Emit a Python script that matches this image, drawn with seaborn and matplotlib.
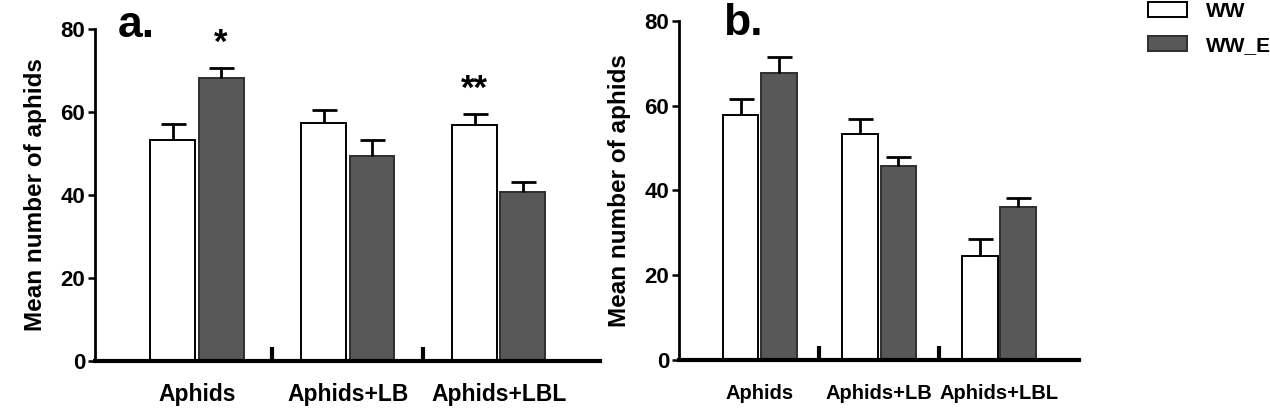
import numpy as np
import pandas as pd
import matplotlib
matplotlib.use("Agg")
import matplotlib.pyplot as plt
import seaborn as sns
from matplotlib.patches import Patch

# data (mean and SEM per group / treatment)
groups = ["Aphids", "Aphids+LB", "Aphids+LBL"]
treatments = ["WW", "WW_E+"]

a_ww = [53.2, 57.3, 56.9]
a_ww_err = [3.9, 3.2, 2.6]
a_we = [68.2, 49.4, 40.7]
a_we_err = [2.4, 3.8, 2.4]
a_stars = [["", "*"], ["", ""], ["**", ""]]

b_ww = [57.9, 53.3, 24.5]
b_ww_err = [3.6, 3.6, 4.0]
b_we = [67.8, 45.8, 36.0]
b_we_err = [3.7, 2.2, 2.3]

colors = {"WW": "white", "WW_E+": "#585858"}
edges = {"WW": "black", "WW_E+": "#2e2e2e"}

sns.set_style("ticks")
plt.rcParams["font.family"] = ["Liberation Sans", "DejaVu Sans"]
plt.rcParams["font.weight"] = "bold"
for k in ["text.color", "axes.labelcolor", "xtick.color", "ytick.color",
          "axes.edgecolor"]:
    plt.rcParams[k] = "black"


def panel(ax, ww, ww_err, we, we_err, stars=None, xfs=13.5, xpad=17):
    df = pd.DataFrame({
        "group": groups * 2,
        "treatment": [treatments[0]] * 3 + [treatments[1]] * 3,
        "mean": ww + we,
        "err": ww_err + we_err,
    })
    sns.barplot(data=df, x="group", y="mean", hue="treatment", order=groups,
                hue_order=treatments, palette=colors, width=0.64, gap=0.07,
                errorbar=None, ax=ax, legend=False, saturation=1)
    # bars come out ordered by hue then group
    for i, p in enumerate(ax.patches):
        t = treatments[i // 3]
        p.set_edgecolor(edges[t])
        p.set_linewidth(1.4)
        p.set_zorder(2)
    xs = [p.get_x() + p.get_width() / 2 for p in ax.patches]
    means = df["mean"].values
    errs = df["err"].values
    _, caps, _ = ax.errorbar(xs, means, yerr=[np.zeros(len(errs)), errs],
                             fmt="none", ecolor="black", elinewidth=2,
                             capsize=9, capthick=2, zorder=3)
    caps[0].set_visible(False)
    if stars:
        flat = [s[0] for s in stars] + [s[1] for s in stars]
        for x, m, e, s in zip(xs, means, errs, flat):
            if s:
                ax.text(x, m + e + 2.0, s, ha="center", va="bottom",
                        fontsize=25, fontweight="bold")

    ax.set_xlim(-0.675, 2.67)
    ax.set_ylim(0, 80)
    ax.set_yticks([0, 20, 40, 60, 80])
    ax.set_xticks(range(3))
    ax.set_xticklabels(groups, fontsize=xfs, fontweight="bold")
    ax.set_xticks([0.5, 1.5], minor=True)
    ax.tick_params(axis="x", which="major", length=0, pad=xpad)
    ax.tick_params(axis="x", which="minor", direction="in", length=10, width=3)
    ax.tick_params(axis="y", length=5, width=1.8, labelsize=16, pad=2)
    for lab in ax.get_yticklabels():
        lab.set_fontweight("bold")
    ax.set_xlabel("")
    ax.set_ylabel("Mean number of aphids", fontsize=17.5, fontweight="bold",
                  labelpad=10)
    sns.despine(ax=ax)
    ax.spines["left"].set_linewidth(2)
    ax.spines["bottom"].set_linewidth(3)


fig = plt.figure(figsize=(12.7, 4.17), dpi=100)
ax1 = fig.add_axes([0.0748, 0.1343, 0.3976, 0.796])
ax2 = fig.add_axes([0.5346, 0.1367, 0.315, 0.813])

panel(ax1, a_ww, a_ww_err, a_we, a_we_err, a_stars, xfs=16.5, xpad=16)
panel(ax2, b_ww, b_ww_err, b_we, b_we_err, xfs=14.5, xpad=17)

fig.text(118 / 1270, 1 - 37 / 417, "a.", fontsize=32, fontweight="bold",
         va="baseline", ha="left")
fig.text(723 / 1270, 1 - 35 / 417, "b.", fontsize=32, fontweight="bold",
         va="baseline", ha="left")

handles = [Patch(facecolor=colors[t], edgecolor=edges[t], linewidth=1.4)
           for t in treatments]
fig.legend(handles, treatments, loc="upper left",
           bbox_to_anchor=(1129 / 1270, 1.04), frameon=False,
           prop={"size": 15, "weight": "bold"}, handlelength=1.9,
           handleheight=0.7, labelspacing=0.7, handletextpad=0.9)

fig.savefig("out.png", dpi=100)
